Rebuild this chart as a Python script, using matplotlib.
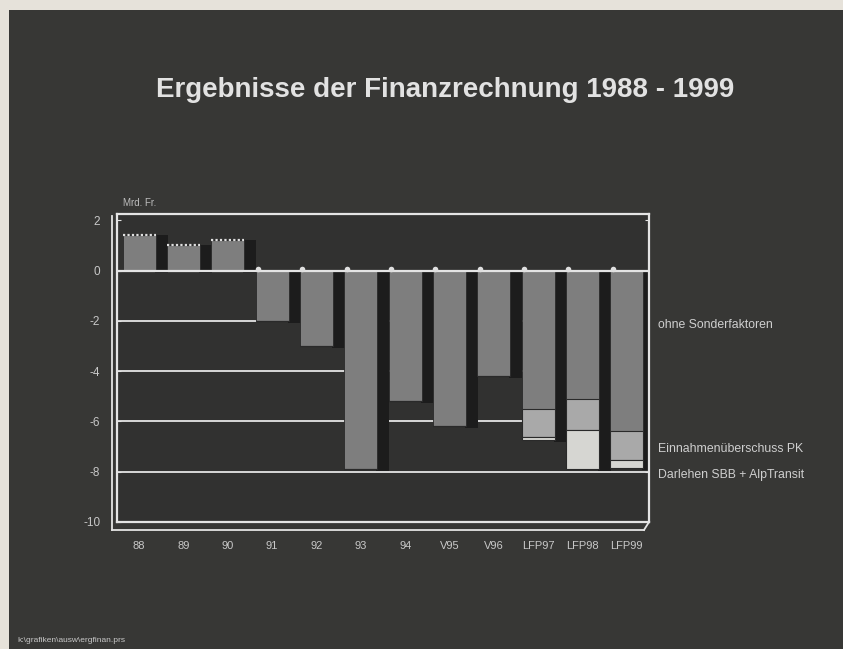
import matplotlib.pyplot as plt
from matplotlib.patches import Rectangle
from matplotlib.lines import Line2D

# Werte in Mrd. Fr. (aus dem Bild geschaetzt)
jahre = ["88", "89", "90", "91", "92", "93", "94", "V95", "V96", "LFP97", "LFP98", "LFP99"]
ohne_sonder = [1.4, 1.0, 1.2, -2.0, -3.0, -7.9, -5.2, -6.2, -4.2, -5.5, -5.1, -6.4]
einnahmen_pk = [0, 0, 0, 0, 0, 0, 0, 0, 0, -1.1, -1.25, -1.15]
darlehen_sbb = [0, 0, 0, 0, 0, 0, 0, 0, 0, -0.15, -1.55, -0.3]
legende = ["ohne Sonderfaktoren", "Einnahmenüberschuss PK", "Darlehen SBB + AlpTransit"]
legende_y = [-2.15, -7.1, -8.15]
yticks = [2, 0, -2, -4, -6, -8, -10]

plt.rcParams['font.family'] = ['Liberation Sans', 'DejaVu Sans']

W, H = 843, 649
fig = plt.figure(figsize=(W / 100, H / 100), dpi=100)
fig.patch.set_facecolor('#e6e2da')
# dunkle Folie mit hellem Rand links/oben
fig.add_artist(Rectangle((9 / W, 0), 1, 1 - 10 / H, transform=fig.transFigure,
                         facecolor='#373735', edgecolor='none', zorder=0))

ax = fig.add_axes([117 / W, 1 - 522 / H, 532 / W, 308 / H])
ax.set_facecolor('#313130')
ax.set_xlim(-0.5, 11.5)
ax.set_ylim(-10, 2.25)

x = list(range(len(jahre)))
bw = 0.74
sw = 0.29

# Gitterlinien hinter den Balken
for g in [-2, -4, -6, -8]:
    ax.axhline(g, color='#d8d8d8', lw=1.4, zorder=1)

# 3D-Schatten rechts neben den Balken
for i in x:
    low = ohne_sonder[i] + einnahmen_pk[i] + darlehen_sbb[i]
    top = max(ohne_sonder[i], 0)
    ax.add_patch(Rectangle((i + bw / 2 - 0.02, min(low, 0) - 0.08), sw, top - min(low, 0) + 0.08,
                           facecolor='#1c1c1c', edgecolor='none', zorder=2))

ax.bar(x, ohne_sonder, width=bw, color='#7e7e7e', edgecolor='#2a2a2a', lw=0.6, zorder=3)
ax.bar(x, einnahmen_pk, width=bw, bottom=ohne_sonder, color='#a9a9a9',
       edgecolor='#2a2a2a', lw=0.8, zorder=3)
unten = [a + b for a, b in zip(ohne_sonder, einnahmen_pk)]
ax.bar(x, darlehen_sbb, width=bw, bottom=unten, color='#d6d6d2',
       edgecolor='#2a2a2a', lw=0.8, zorder=3)

# helle Oberkanten / Deckel
for i in x:
    if ohne_sonder[i] > 0:
        ax.hlines(ohne_sonder[i], i - bw / 2, i + bw / 2, color='#e0e0e0', lw=1.6,
                  linestyle=(0, (1, 1)), zorder=4)
    else:
        ax.plot(i - bw / 2 + 0.05, 0.08, marker='o', ms=4, mfc='#e0e0e0', mec='none', zorder=5)

ax.axhline(0, color='#e4e4e4', lw=1.6, zorder=4)

for s in ax.spines.values():
    s.set_color('#e4e4e4')
    s.set_linewidth(1.6)

ax.set_xticks(x)
ax.set_xticklabels(jahre)
ax.set_yticks(yticks)
ax.set_yticklabels([str(t) for t in yticks])
ax.tick_params(axis='x', length=0, pad=14, labelsize=8, colors='#c8c8c8')
ax.tick_params(axis='y', length=3, pad=12, labelsize=8.5, colors='#c8c8c8', direction='in')
ax.tick_params(axis='y', which='both', right=True, color='#e4e4e4')

# 3D-Boden: zweite Linie links und unten
fig.add_artist(Line2D([112 / W, 112 / W], [1 - 530 / H, 1 - 216 / H], color='#e4e4e4',
                      lw=1.3, transform=fig.transFigure))
fig.add_artist(Line2D([112 / W, 644 / W], [1 - 530 / H, 1 - 530 / H], color='#e4e4e4',
                      lw=1.3, transform=fig.transFigure))
fig.add_artist(Line2D([644 / W, 649 / W], [1 - 530 / H, 1 - 522 / H], color='#e4e4e4',
                      lw=1.3, transform=fig.transFigure))

for txt, yv in zip(legende, legende_y):
    ax.text(11.7, yv, txt, fontsize=8.8, color='#cfcfcf', va='center', ha='left', clip_on=False)

fig.text(123 / W, 1 - 203 / H, "Mrd. Fr.", fontsize=7, color='#bdbdbd', va='center')
fig.text(445 / W, 1 - 90 / H, "Ergebnisse der Finanzrechnung 1988 - 1999", fontsize=20,
         fontweight='bold', color='#e2e2e2', ha='center', va='center')
fig.text(17 / W, 1 - 641 / H, "k:\\grafiken\\ausw\\ergfinan.prs", fontsize=6,
         color='#c8c8c8', va='center')

fig.savefig('out.png', dpi=100, facecolor=fig.get_facecolor())
